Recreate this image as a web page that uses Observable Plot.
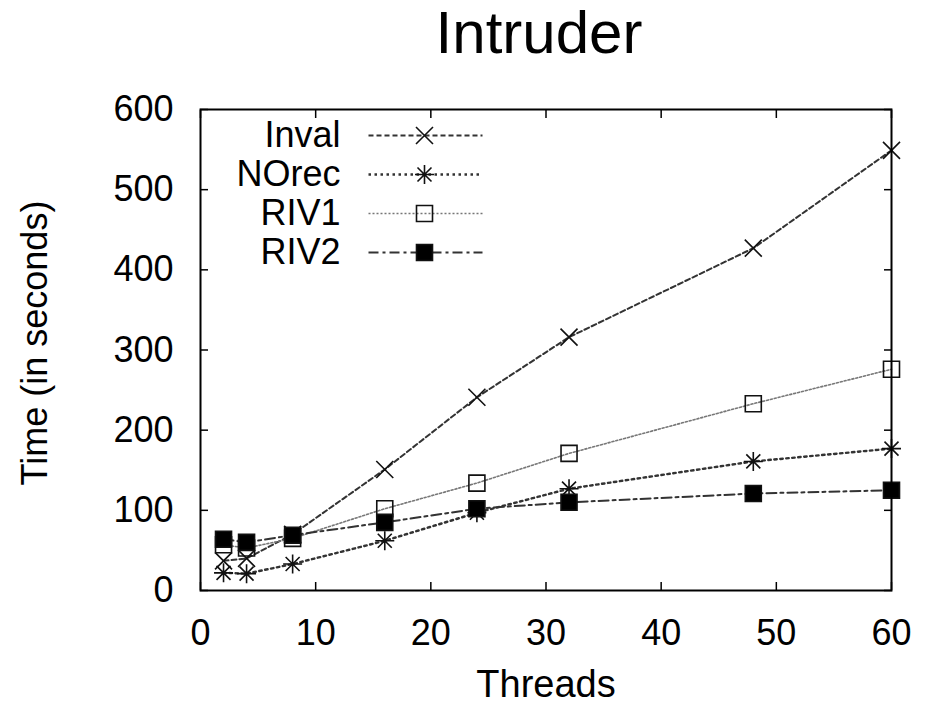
<!DOCTYPE html>
<html><head><meta charset="utf-8">
<script src="https://cdn.jsdelivr.net/npm/d3@7"></script>
<script src="https://cdn.jsdelivr.net/npm/@observablehq/plot@0.6"></script>
<style>
body{margin:0;background:#fff;font-family:"Liberation Sans",Arial,sans-serif;}
#title{width:932px;height:72px;line-height:66px;font-size:60px;text-align:center;padding-left:146px;box-sizing:border-box;color:#000;}
</style></head><body>
<div id="title">Intruder</div>
<div id="chart"></div>
<script>
const threads = [2, 4, 8, 16, 24, 32, 48, 60];
const series = ["Inval", "NOrec", "RIV1", "RIV2"];
const inval = [37, 40, 70, 151, 241, 316, 427, 549];
const norec = [22, 21, 33, 62, 97, 127, 161, 177];
const riv1 = [57, 53, 65, 102, 134, 171, 233, 276];
const riv2 = [64, 60, 69, 85, 102, 110, 121, 125];
const xTicks = [0, 10, 20, 30, 40, 50, 60];
const yTicks = [0, 100, 200, 300, 400, 500, 600];
const values = [inval, norec, riv1, riv2];

const rows = series.flatMap((s, i) => threads.map((t, j) => ({series: s, threads: t, time: values[i][j]})));

const crossSym = {draw(c) { const h = 8.5; c.moveTo(-h, -h); c.lineTo(h, h); c.moveTo(-h, h); c.lineTo(h, -h); }};
const starSym = {draw(c) { const h = 7, p = 9.5; c.moveTo(-h, -h); c.lineTo(h, h); c.moveTo(-h, h); c.lineTo(h, -h); c.moveTo(0, -p); c.lineTo(0, p); c.moveTo(-p, 0); c.lineTo(p, 0); }};
const squareSym = {draw(c) { const h = 8; c.rect(-h, -h, 2 * h, 2 * h); }};
const legendLine = {draw(c) { c.moveTo(-57, 0); c.lineTo(57, 0); }};

const styles = {
  Inval: {stroke: "#333", dash: "5,3", width: 2, symbol: crossSym, fill: "none"},
  NOrec: {stroke: "#333", dash: "2.5,3.5", width: 2.4, symbol: starSym, fill: "none"},
  RIV1: {stroke: "#777", dash: "2,2", width: 1.6, symbol: squareSym, fill: "none"},
  RIV2: {stroke: "#333", dash: "10,4,3,4", width: 2, symbol: squareSym, fill: "#000"}
};

const font = "Liberation Sans, Arial, sans-serif";

const marks = [];
for (const s of series) {
  const st = styles[s];
  marks.push(Plot.line(rows.filter(d => d.series === s), {x: "threads", y: "time", stroke: st.stroke, strokeWidth: st.width, strokeDasharray: st.dash}));
}
for (const s of series) {
  const st = styles[s];
  marks.push(Plot.dot(rows.filter(d => d.series === s), {x: "threads", y: "time", symbol: st.symbol, r: 8, stroke: "#111", strokeWidth: 1.6, fill: st.fill}));
}
series.forEach((s, i) => {
  const st = styles[s];
  const dy = 26 + 39 * i;
  marks.push(Plot.text([s], {text: d => d, frameAnchor: "top-left", dx: 140, dy, textAnchor: "end", lineAnchor: "middle", fontSize: 36, fill: "#000"}));
  marks.push(Plot.dot([0], {frameAnchor: "top-left", dx: 225, dy, symbol: legendLine, r: 8, stroke: st.stroke, strokeWidth: st.width, strokeDasharray: st.dash, fill: "none"}));
  marks.push(Plot.dot([0], {frameAnchor: "top-left", dx: 224, dy, symbol: st.symbol, r: 8, stroke: "#111", strokeWidth: 1.6, fill: st.fill}));
});

const chart = Plot.plot({
  width: 932,
  height: 634,
  marginLeft: 200,
  marginRight: 41,
  marginTop: 37,
  marginBottom: 116,
  style: {fontFamily: font, fontSize: "36px", color: "#000", background: "#fff"},
  x: {domain: [0, 60]},
  y: {domain: [0, 600]},
  marks: [
    Plot.axisX(xTicks, {anchor: "bottom", tickSize: -8, tickPadding: 37, fontSize: 36, label: null, stroke: "#000", strokeWidth: 1.5, fill: "#000"}),
    Plot.axisX(xTicks, {anchor: "top", tickSize: -8, tickFormat: () => "", label: null, stroke: "#000", strokeWidth: 1.5}),
    Plot.axisY(yTicks, {anchor: "left", tickSize: -8, tickPadding: 35, fontSize: 36, label: null, stroke: "#000", strokeWidth: 1.5, fill: "#000"}),
    Plot.axisY(yTicks, {anchor: "right", tickSize: -8, tickFormat: () => "", label: null, stroke: "#000", strokeWidth: 1.5}),
    ...marks,
    Plot.frame({stroke: "#000", strokeWidth: 2}),
    Plot.text(["Threads"], {text: d => d, frameAnchor: "bottom", dy: 80, textAnchor: "middle", lineAnchor: "top", fontSize: 38, fill: "#000"}),
    Plot.text(["Time (in seconds)"], {text: d => d, frameAnchor: "left", dx: -165, dy: -7, rotate: -90, textAnchor: "middle", lineAnchor: "middle", fontSize: 36, fill: "#000"})
  ]
});
document.getElementById("chart").appendChild(chart);
</script>
</body></html>
